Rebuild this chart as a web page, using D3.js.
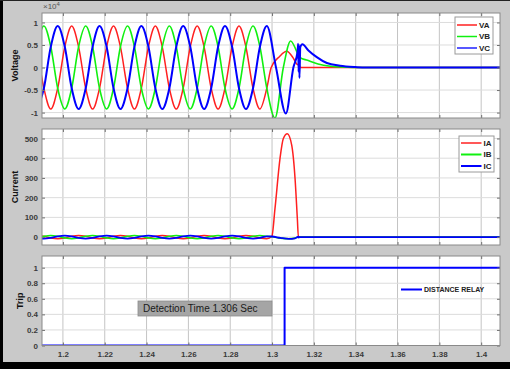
<!DOCTYPE html>
<html>
<head>
<meta charset="utf-8">
<script src="https://cdn.jsdelivr.net/npm/d3@7"></script>
<style>
  body { margin: 0; background: #fff; }
  svg { display: block; font-family: "Liberation Sans", Arial, sans-serif; }
</style>
</head>
<body>
<div id="chart"></div>
<script>
// x axis
const xTicks = [1.2, 1.22, 1.24, 1.26, 1.28, 1.3, 1.32, 1.34, 1.36, 1.38, 1.4];

// pre-fault sample times (shared by all phases, ~every 60 deg of 50 Hz)
const preTime = [1.1875, 1.1909, 1.1942, 1.1975, 1.2009,
  1.2042, 1.2075, 1.2109, 1.2142, 1.2175, 1.2209,
  1.2242, 1.2275, 1.2309, 1.2342, 1.2375, 1.2409,
  1.2442, 1.2475, 1.2509, 1.2542, 1.2575, 1.2609,
  1.2642, 1.2675, 1.2709, 1.2742, 1.2775, 1.2809,
  1.2842, 1.2875, 1.2909, 1.2942, 1.2975];

// voltages (x10^4)
const vaPre = [0.46, -0.46, -0.92, -0.46, 0.46,
  0.92, 0.46, -0.46, -0.92, -0.46, 0.46,
  0.92, 0.46, -0.46, -0.92, -0.46, 0.46,
  0.92, 0.46, -0.46, -0.92, -0.46, 0.46,
  0.92, 0.46, -0.46, -0.92, -0.46, 0.46,
  0.92, 0.46, -0.46, -0.92, -0.46];
const vbPre = [0.46, 0.92, 0.46, -0.46, -0.92,
  -0.46, 0.46, 0.92, 0.46, -0.46, -0.92,
  -0.46, 0.46, 0.92, 0.46, -0.46, -0.92,
  -0.46, 0.46, 0.92, 0.46, -0.46, -0.92,
  -0.46, 0.46, 0.92, 0.46, -0.46, -0.92,
  -0.46, 0.46, 0.92, 0.46, -0.46];
const vcPre = [-0.92, -0.46, 0.46, 0.92, 0.46,
  -0.46, -0.92, -0.46, 0.46, 0.92, 0.46,
  -0.46, -0.92, -0.46, 0.46, 0.92, 0.46,
  -0.46, -0.92, -0.46, 0.46, 0.92, 0.46,
  -0.46, -0.92, -0.46, 0.46, 0.92, 0.46,
  -0.46, -0.92, -0.46, 0.46, 0.92];
const vaPost = [[1.2996, 0], [1.3035, 0.24], [1.3070, 0.36], [1.3100, 0.22], [1.3118, 0.08],
  [1.3128, 0.05], [1.3130, -0.07], [1.3132, 0.04], [1.3135, 0], [1.41, 0]];
const vbPost = [[1.3014, -1.12], [1.3054, 0], [1.3089, 0.59], [1.3112, 0.42], [1.3126, 0.27],
  [1.3134, 0.22], [1.3170, 0.16], [1.3220, 0.08], [1.3280, 0.03], [1.3350, 0.01], [1.3400, 0], [1.41, 0]];
const vcPost = [[1.3019, 0], [1.3066, -1.02], [1.3102, 0], [1.3122, 0.35], [1.3125, 0.53],
  [1.3127, -0.1], [1.3129, 0.5], [1.3131, -0.23], [1.3135, 0.45], [1.3145, 0.515],
  [1.3174, 0.38], [1.3214, 0.23], [1.3262, 0.1], [1.3325, 0.04], [1.3400, 0.01], [1.3450, 0], [1.41, 0]];

// currents
const iaPre = [8, 4, -4, -8, -4,
  4, 8, 4, -4, -8, -4,
  4, 8, 4, -4, -8, -4,
  4, 8, 4, -4, -8, -4,
  4, 8, 4, -4, -8, -4,
  4, 8, 4, -4, -8];
const ibPre = [-4, 4, 8, 4, -4,
  -8, -4, 4, 8, 4, -4,
  -8, -4, 4, 8, 4, -4,
  -8, -4, 4, 8, 4, -4,
  -8, -4, 4, 8, 4, -4,
  -8, -4, 4, 8, 4];
const icPre = [-4, -8, -4, 4, 8,
  4, -4, -8, -4, 4, 8,
  4, -4, -8, -4, 4, 8,
  4, -4, -8, -4, 4, 8,
  4, -4, -8, -4, 4, 8,
  4, -4, -8, -4, 4];
const iaPost = [[1.2999, 3], [1.3014, 144], [1.3038, 398], [1.3054, 500], [1.3073, 524],
  [1.3094, 466], [1.3110, 297], [1.3121, 93], [1.3126, 0], [1.41, 0]];
const ibPost = [[1.3000, 2], [1.3040, -5], [1.3080, -8], [1.3110, -5], [1.3126, 0], [1.41, 0]];
const icPost = [[1.3000, 3], [1.3040, -4], [1.3080, -9], [1.3110, -6], [1.3126, 2],
  [1.3128, -3], [1.3130, 0], [1.41, 0]];

// trip signal
const tripTime = [1.19, 1.306, 1.41];
const tripValue = [0, 1, 1];

const width = 510, height = 369;
const left = 42, right = 500;

const svg = d3.select('#chart').append('svg')
  .attr('width', width)
  .attr('height', height);

// figure background and black frame
svg.append('rect').attr('width', width).attr('height', height).attr('fill', '#c9c9c9');
svg.append('rect').attr('x', 0).attr('y', 0).attr('width', 3).attr('height', height).attr('fill', '#000');
svg.append('rect').attr('x', 0).attr('y', 0).attr('width', width).attr('height', 1).attr('fill', '#222');
svg.append('rect').attr('x', 0).attr('y', 362).attr('width', width).attr('height', 7).attr('fill', '#000');

const x = d3.scaleLinear().domain([1.19, 1.409]).range([left, right]);

function join(times, pre, post) {
  return pre.map((v, i) => [times[i], v]).concat(post);
}

const panels = [
  { id: 'v', top: 13, bottom: 118, domain: [-1.12, 1.21], ticks: [-1, -0.5, 0, 0.5, 1],
    label: 'Voltage', labelX: 15,
    series: [
      { data: join(preTime, vaPre, vaPost), color: '#ff2020', w: 1.5 },
      { data: join(preTime, vbPre, vbPost), color: '#10f010', w: 1.6 },
      { data: join(preTime, vcPre, vcPost), color: '#0000ff', w: 2 }
    ] },
  { id: 'i', top: 129, bottom: 245, domain: [-40, 548], ticks: [0, 100, 200, 300, 400, 500],
    label: 'Current', labelX: 15,
    series: [
      { data: join(preTime, iaPre, iaPost), color: '#ff2020', w: 1.5 },
      { data: join(preTime, ibPre, ibPost), color: '#10f010', w: 1.6 },
      { data: join(preTime, icPre, icPost), color: '#0000ff', w: 1.8 }
    ] },
  { id: 't', top: 256, bottom: 345.5, domain: [0, 1.15], ticks: [0, 0.2, 0.4, 0.6, 0.8, 1],
    label: 'Trip', labelX: 20, step: true,
    series: [
      { data: tripTime.map((t, i) => [t, tripValue[i]]), color: '#0000ff', w: 2 }
    ] }
];

panels.forEach((p, pi) => {
  const y = d3.scaleLinear().domain(p.domain).range([p.bottom, p.top]);
  const g = svg.append('g');
  const h = p.bottom - p.top;

  g.append('rect')
    .attr('x', left).attr('y', p.top)
    .attr('width', right - left).attr('height', h)
    .attr('fill', '#fff');

  // grid
  g.append('g').selectAll('line').data(xTicks).join('line')
    .attr('x1', d => x(d)).attr('x2', d => x(d))
    .attr('y1', p.top).attr('y2', p.bottom)
    .attr('stroke', '#c4c4c4').attr('stroke-width', 1);
  g.append('g').selectAll('line').data(p.ticks).join('line')
    .attr('x1', left).attr('x2', right)
    .attr('y1', d => y(d)).attr('y2', d => y(d))
    .attr('stroke', '#dcdcdc').attr('stroke-width', 1);

  // clip
  svg.append('clipPath').attr('id', 'clip-' + p.id)
    .append('rect').attr('x', left).attr('y', p.top)
    .attr('width', right - left).attr('height', h);

  const line = d3.line()
    .x(d => x(d[0]))
    .y(d => y(d[1]))
    .curve(p.step ? d3.curveStepAfter : d3.curveMonotoneX);

  const lines = g.append('g').attr('clip-path', `url(#clip-${p.id})`);
  p.series.forEach(s => {
    lines.append('path')
      .attr('d', line(s.data))
      .attr('fill', 'none')
      .attr('stroke', s.color)
      .attr('stroke-width', s.w)
      .attr('stroke-linejoin', 'round');
  });

  // axes with inward ticks
  const yl = g.append('g').attr('transform', `translate(${left},0)`)
    .call(d3.axisLeft(y).tickValues(p.ticks).tickFormat(d => String(d))
      .tickSizeInner(-3).tickSizeOuter(0).tickPadding(4));
  const yr = g.append('g').attr('transform', `translate(${right},0)`)
    .call(d3.axisRight(y).tickValues(p.ticks).tickFormat('')
      .tickSizeInner(-3).tickSizeOuter(0));
  const xb = g.append('g').attr('transform', `translate(0,${p.bottom})`)
    .call(d3.axisBottom(x).tickValues(xTicks)
      .tickFormat(pi === 2 ? (d => String(d)) : '')
      .tickSizeInner(-3).tickSizeOuter(0).tickPadding(6));
  const xt = g.append('g').attr('transform', `translate(0,${p.top})`)
    .call(d3.axisTop(x).tickValues(xTicks).tickFormat('')
      .tickSizeInner(-3).tickSizeOuter(0));

  [yl, yr, xb, xt].forEach(a => {
    a.select('.domain').remove();
    a.selectAll('line').attr('stroke', '#707070');
    a.selectAll('text')
      .attr('fill', '#3a3a3a')
      .style('font-size', '8px')
      .style('font-weight', 'bold');
  });

  // axes box
  g.append('rect')
    .attr('x', left).attr('y', p.top)
    .attr('width', right - left).attr('height', h)
    .attr('fill', 'none').attr('stroke', '#8a8a8a').attr('stroke-width', 1);

  // y label
  g.append('text')
    .attr('transform', `translate(${p.labelX},${(p.top + p.bottom) / 2}) rotate(-90)`)
    .attr('text-anchor', 'middle')
    .attr('dy', '0.35em')
    .style('font-size', '9px')
    .style('font-weight', 'bold')
    .attr('fill', '#111')
    .text(p.label);
});

// exponent label of the voltage axis
const expo = svg.append('text')
  .attr('x', 43).attr('y', 9)
  .style('font-size', '8px')
  .attr('fill', '#555')
  .text('\u00d710');
expo.append('tspan').attr('dy', -3).style('font-size', '6px').text('4');

// legends
function legend(bx, by, bw, bh, items, lineX1, lineX2, textX, rows) {
  if (bw > 0) {
    svg.append('rect').attr('x', bx).attr('y', by).attr('width', bw).attr('height', bh)
      .attr('fill', '#fff').attr('stroke', '#9a9a9a').attr('stroke-width', 1);
  }
  items.forEach((it, i) => {
    svg.append('line')
      .attr('x1', lineX1).attr('x2', lineX2)
      .attr('y1', rows[i]).attr('y2', rows[i])
      .attr('stroke', it.color).attr('stroke-width', it.w);
    svg.append('text')
      .attr('x', textX).attr('y', rows[i]).attr('dy', '0.35em')
      .style('font-size', it.size + 'px').style('font-weight', 'bold')
      .attr('fill', '#222')
      .text(it.name);
  });
}

legend(455, 17, 38, 37, [
  { name: 'VA', color: '#ff2020', w: 1.5, size: 8 },
  { name: 'VB', color: '#10f010', w: 1.5, size: 8 },
  { name: 'VC', color: '#2020ff', w: 1.5, size: 8 }
], 457, 477, 479, [25, 36.5, 48]);

legend(459, 136, 35, 36, [
  { name: 'IA', color: '#ff2020', w: 1.5, size: 8 },
  { name: 'IB', color: '#10f010', w: 2, size: 8 },
  { name: 'IC', color: '#0000ff', w: 2, size: 8 }
], 461, 481.5, 483.5, [143, 154.5, 166]);

legend(0, 0, 0, 0, [
  { name: 'DISTANCE RELAY', color: '#0000ff', w: 2, size: 7 }
], 401, 422, 424, [289.5]);

// detection time annotation
svg.append('rect')
  .attr('x', 138).attr('y', 301).attr('width', 134).attr('height', 15)
  .attr('fill', '#a5a5a5').attr('stroke', '#8c8c8c').attr('stroke-width', 0.8);
svg.append('text')
  .attr('x', 143).attr('y', 308.5).attr('dy', '0.35em')
  .style('font-size', '10px')
  .attr('fill', '#1a1a1a')
  .text('Detection Time 1.306 Sec');
</script>
</body>
</html>
